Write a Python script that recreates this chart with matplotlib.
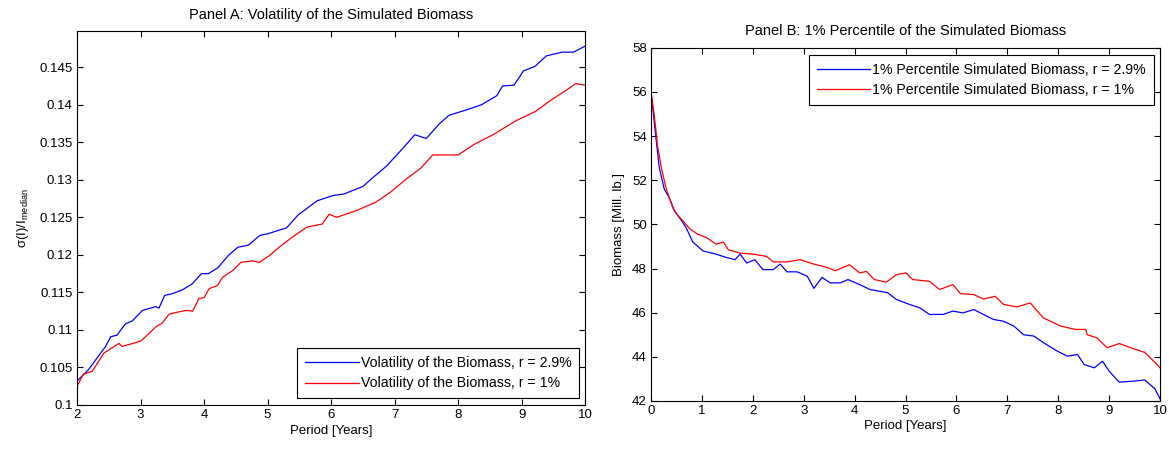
import numpy as np
import matplotlib
matplotlib.use("Agg")
import matplotlib.pyplot as plt

plt.rcParams['font.family'] = ['Liberation Sans', 'DejaVu Sans']
plt.rcParams['font.size'] = 9.5
plt.rcParams['mathtext.default'] = 'regular'

# Panel A: volatility sigma(I)/I_median, r = 2.9%
vol_hi_years = [2.0, 2.18, 2.24, 2.37, 2.45, 2.53, 2.63, 2.76, 2.87, 3.03, 3.24, 3.29,
                3.38, 3.49, 3.65, 3.81, 3.96, 4.07, 4.22, 4.38, 4.53, 4.7, 4.88, 5.0,
                5.3, 5.48, 5.78, 6.03, 6.2, 6.5, 6.66, 6.87, 7.11, 7.32, 7.5, 7.71,
                7.86, 8.13, 8.37, 8.61, 8.7, 8.88, 9.03, 9.21, 9.39, 9.64, 9.82, 10.0]
vol_hi = [0.1032, 0.1047, 0.1054, 0.1069, 0.1078, 0.1091, 0.1093, 0.1108, 0.1112, 0.1126,
          0.1131, 0.1129, 0.1146, 0.1148, 0.1153, 0.1161, 0.1175, 0.1175, 0.1183, 0.1199,
          0.1210, 0.1213, 0.1226, 0.1228, 0.1236, 0.1253, 0.1272, 0.1279, 0.1281, 0.1291,
          0.1303, 0.1318, 0.1340, 0.1360, 0.1355, 0.1375, 0.1386, 0.1393, 0.1400, 0.1412,
          0.1425, 0.1426, 0.1445, 0.1451, 0.1465, 0.1470, 0.1470, 0.1478]

# Panel A: r = 1%
vol_lo_years = [2.0, 2.1, 2.24, 2.34, 2.42, 2.55, 2.66, 2.71, 2.92, 3.0, 3.13, 3.24,
                3.34, 3.45, 3.6, 3.71, 3.82, 3.92, 4.0, 4.08, 4.21, 4.29, 4.45, 4.58,
                4.76, 4.87, 5.03, 5.18, 5.38, 5.62, 5.86, 5.97, 6.09, 6.4, 6.7, 6.93,
                7.17, 7.42, 7.6, 8.0, 8.25, 8.55, 8.92, 9.22, 9.46, 9.7, 9.85, 10.0]
vol_lo = [0.1025, 0.1041, 0.1045, 0.1058, 0.1069, 0.1076, 0.1082, 0.1078, 0.1083, 0.1085,
          0.1095, 0.1104, 0.1109, 0.1121, 0.1124, 0.1126, 0.1125, 0.1142, 0.1143, 0.1155,
          0.1159, 0.1170, 0.1179, 0.1190, 0.1192, 0.1190, 0.1199, 0.1210, 0.1223, 0.1237,
          0.1241, 0.1254, 0.1250, 0.1259, 0.1270, 0.1283, 0.1300, 0.1316, 0.1333, 0.1333,
          0.1347, 0.1360, 0.1379, 0.1391, 0.1406, 0.1419, 0.1428, 0.1426]

# Panel B: 1% percentile of biomass [Mill. lb.], r = 2.9%
bio_hi_years = [0, 0.1, 0.16, 0.26, 0.36, 0.46, 0.56, 0.69, 0.82, 1.02, 1.28, 1.48,
                1.65, 1.75, 1.88, 2.04, 2.2, 2.4, 2.54, 2.67, 2.87, 3.07, 3.2, 3.36,
                3.52, 3.72, 3.87, 4.1, 4.3, 4.49, 4.65, 4.82, 5.08, 5.28, 5.47, 5.74,
                5.93, 6.13, 6.34, 6.53, 6.73, 6.93, 7.13, 7.32, 7.52, 7.71, 7.98, 8.18,
                8.38, 8.51, 8.71, 8.87, 9.0, 9.2, 9.5, 9.7, 9.9, 10.0]
bio_hi = [56.0, 53.85, 52.6, 51.6, 51.2, 50.6, 50.3, 49.85, 49.2, 48.8, 48.65, 48.5,
          48.4, 48.65, 48.25, 48.4, 47.95, 47.95, 48.2, 47.85, 47.85, 47.65, 47.1, 47.6,
          47.35, 47.35, 47.5, 47.27, 47.05, 46.97, 46.9, 46.6, 46.37, 46.22, 45.92, 45.92,
          46.07, 45.99, 46.14, 45.92, 45.69, 45.61, 45.39, 45.0, 44.94, 44.64, 44.26, 44.03,
          44.1, 43.65, 43.5, 43.8, 43.35, 42.85, 42.9, 42.95, 42.55, 42.1]

# Panel B: r = 1%
bio_lo_years = [0, 0.066, 0.13, 0.2, 0.3, 0.43, 0.53, 0.63, 0.76, 0.92, 1.09, 1.28,
                1.42, 1.52, 1.75, 2.01, 2.27, 2.4, 2.67, 2.93, 3.2, 3.46, 3.62, 3.9,
                4.1, 4.23, 4.39, 4.62, 4.82, 5.01, 5.14, 5.47, 5.67, 5.93, 6.08, 6.34,
                6.53, 6.76, 6.93, 7.19, 7.45, 7.71, 8.05, 8.34, 8.54, 8.57, 8.76, 8.96,
                9.2, 9.5, 9.7, 9.9, 10.0]
bio_lo = [56.0, 54.9, 53.55, 52.6, 51.6, 50.75, 50.4, 50.15, 49.8, 49.55, 49.4, 49.1,
          49.2, 48.85, 48.7, 48.65, 48.55, 48.3, 48.3, 48.4, 48.2, 48.05, 47.9, 48.17,
          47.8, 47.87, 47.5, 47.38, 47.72, 47.8, 47.5, 47.42, 47.05, 47.27, 46.86, 46.82,
          46.62, 46.74, 46.37, 46.26, 46.44, 45.76, 45.39, 45.24, 45.24, 45.0, 44.86, 44.41,
          44.6, 44.35, 44.2, 43.75, 43.5]

vol_ticks = [0.1, 0.105, 0.11, 0.115, 0.12, 0.125, 0.13, 0.135, 0.14, 0.145]
bio_ticks = [42, 44, 46, 48, 50, 52, 54, 56, 58]

fig = plt.figure(figsize=(11.69, 4.51), dpi=100, facecolor='white')
axA = fig.add_axes([0.0659, 0.102, 0.4346, 0.829])
axB = fig.add_axes([0.5569, 0.111, 0.4354, 0.783])


def style(ax):
    ax.tick_params(direction='in', top=True, right=True, length=4, width=0.8,
                   labelsize=9.5, pad=3)
    for s in ax.spines.values():
        s.set_linewidth(0.8)
        s.set_color('black')


def legend(ax, **kw):
    lg = ax.legend(fancybox=False, edgecolor='black', framealpha=1, fontsize=10.2,
                   handlelength=3.8, handletextpad=0.15, borderaxespad=0,
                   labelspacing=0.45, borderpad=0.55, **kw)
    lg.get_frame().set_linewidth(0.8)


# Panel A
axA.plot(vol_hi_years, vol_hi, color='#0000ff', lw=0.9,
         label='Volatility of the Biomass, r = 2.9%')
axA.plot(vol_lo_years, vol_lo, color='#ff0000', lw=0.9,
         label='Volatility of the Biomass, r = 1%')
axA.set_xlim(2, 10)
axA.set_ylim(0.1, 0.1498)
axA.set_xticks(range(2, 11))
axA.set_yticks(vol_ticks)
axA.set_yticklabels([f'{t:g}' for t in vol_ticks])
axA.set_xlabel('Period [Years]', labelpad=3)
axA.set_ylabel(r'$\sigma$(I)/I$_{median}$', labelpad=6)
axA.set_title('Panel A: Volatility of the Simulated Biomass', fontsize=10.5, pad=9)
style(axA)
legend(axA, loc='lower right', bbox_to_anchor=(0.989, 0.018))

# Panel B
axB.plot(bio_hi_years, bio_hi, color='#0000ff', lw=0.9,
         label='1% Percentile Simulated Biomass, r = 2.9%')
axB.plot(bio_lo_years, bio_lo, color='#ff0000', lw=0.9,
         label='1% Percentile Simulated Biomass, r = 1%')
axB.set_xlim(0, 10)
axB.set_ylim(42, 58)
axB.set_xticks(range(0, 11))
axB.set_yticks(bio_ticks)
axB.set_xlabel('Period [Years]', labelpad=2)
axB.set_ylabel('Biomass [Mill. lb.]', labelpad=5)
axB.set_title('Panel B: 1% Percentile of the Simulated Biomass', fontsize=10.5, pad=9)
style(axB)
legend(axB, loc='upper right', bbox_to_anchor=(0.988, 0.98))

fig.savefig('out.png', dpi=100, facecolor='white')
